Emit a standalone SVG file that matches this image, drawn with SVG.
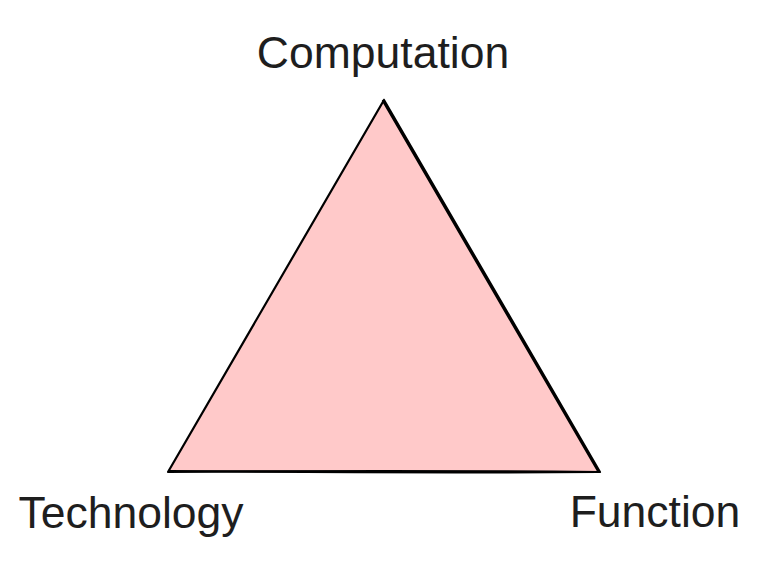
<svg xmlns="http://www.w3.org/2000/svg" width="770" height="564" viewBox="0 0 770 564">
<style>
.lbl{font-family:"Liberation Sans",Arial,Helvetica,sans-serif;font-size:44.5px;fill:#1e1e1e}
.edge{fill:none;stroke:#000;stroke-width:2.2;stroke-linecap:round;stroke-linejoin:round}
</style>
<rect width="770" height="564" fill="#fff"/>
<g id="triangle">
<polygon points="384,100 600,472 168,472" fill="#ffc9c9"/>
<path class="edge" d="M384,100 Q492,286 600,472 Q384,470 168,472 Q276,286 384,100"/>
<path class="edge" d="M383,101 Q490,284 598,471" stroke-width="1.4"/>
<path class="edge" d="M170,471 Q385,473 599,472" stroke-width="1.2"/>
</g>
<g id="label-computation"><text class="lbl" x="383" y="68" text-anchor="middle">Computation</text></g>
<g id="label-technology"><text class="lbl" x="131" y="528" text-anchor="middle">Technology</text></g>
<g id="label-function"><text class="lbl" x="655" y="527" text-anchor="middle">Function</text></g>
</svg>
